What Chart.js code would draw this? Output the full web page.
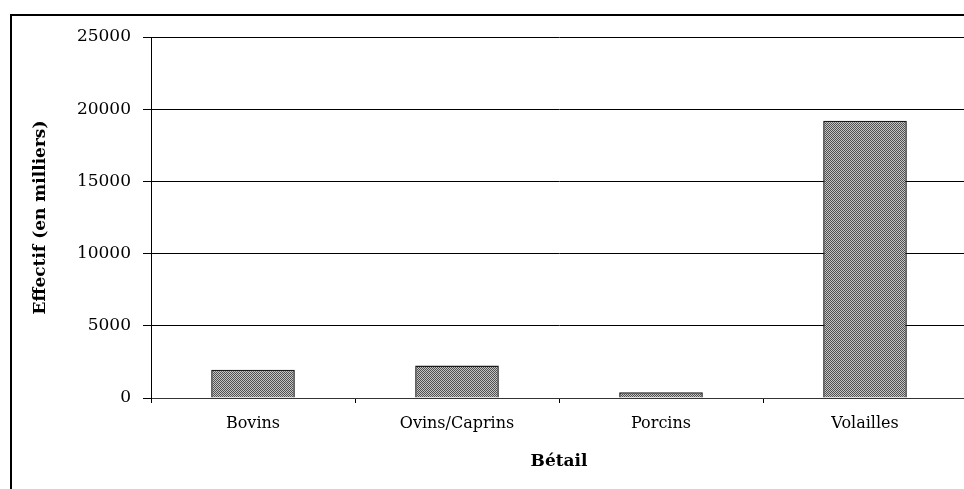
<!DOCTYPE html>
<html>
<head>
<meta charset="utf-8">
<script src="https://cdn.jsdelivr.net/npm/chart.js@4.4.0/dist/chart.umd.min.js"></script>
<style>
  html, body { margin: 0; padding: 0; background: #fff; overflow: hidden; }
  #wrap { position: relative; width: 964px; height: 489px; overflow: hidden; }
  #frame { position: absolute; left: 10px; top: 14px; width: 1000px; height: 600px; border: 2px solid #000; }
  canvas { position: absolute; left: 0; top: 0; }
</style>
</head>
<body>
<div id="wrap">
  <div id="frame"></div>
  <canvas id="chart" width="1000" height="489"></canvas>
</div>
<script>
// Data
const categories = ['Bovins', 'Ovins/Caprins', 'Porcins', 'Volailles'];
const effectifs = [1950, 2250, 400, 19200];
const yTicks = [0, 5000, 10000, 15000, 20000, 25000];

// dithered grey fill like the original
function makePattern() {
  const p = document.createElement('canvas');
  p.width = 2;
  p.height = 2;
  const c = p.getContext('2d');
  c.fillStyle = '#c4c4c4';
  c.fillRect(0, 0, 2, 2);
  c.fillStyle = '#505050';
  c.fillRect(0, 0, 1, 1);
  c.fillRect(1, 1, 1, 1);
  return c.createPattern(p, 'repeat');
}

const ctx = document.getElementById('chart').getContext('2d');
new Chart(ctx, {
  type: 'bar',
  data: {
    labels: categories,
    datasets: [
      {
        label: 'Effectif',
        data: effectifs,
        backgroundColor: makePattern(),
        borderColor: '#1a1a1a',
        borderWidth: 1.5,
        barPercentage: 0.41,
        categoryPercentage: 1,
      },
    ],
  },
  options: {
    responsive: false,
    animation: false,
    layout: {
      padding: { left: 0, top: 37, right: 33, bottom: 0 },
    },
    plugins: {
      legend: { display: false },
      tooltip: { enabled: false },
    },
    scales: {
      x: {
        grid: {
          offset: true,
          drawOnChartArea: false,
          drawTicks: true,
          tickLength: 5,
          color: '#000',
        },
        border: { color: '#333', width: 1 },
        ticks: {
          color: '#000',
          padding: 11,
          maxRotation: 0,
          font: { family: 'DejaVu Serif', size: 16 },
        },
        title: {
          display: true,
          text: 'Bétail',
          color: '#000',
          padding: 17,
          font: { family: 'DejaVu Serif', size: 17, weight: 'bold' },
        },
        afterFit: function (scale) {
          scale.height = 91;
        },
      },
      y: {
        min: 0,
        max: 25000,
        afterBuildTicks: function (scale) {
          scale.ticks = yTicks.map((v) => ({ value: v }));
        },
        grid: {
          color: '#000',
          lineWidth: 1,
          tickLength: 8,
        },
        border: { color: '#000', width: 1 },
        ticks: {
          color: '#000',
          padding: 12,
          font: { family: 'DejaVu Serif', size: 17 },
          callback: function (value) {
            return String(value);
          },
        },
        title: {
          display: true,
          text: 'Effectif (en milliers)',
          color: '#000',
          padding: 30,
          font: { family: 'DejaVu Serif', size: 17, weight: 'bold' },
        },
        afterFit: function (scale) {
          scale.width = 151;
        },
      },
    },
  },
});
</script>
</body>
</html>
